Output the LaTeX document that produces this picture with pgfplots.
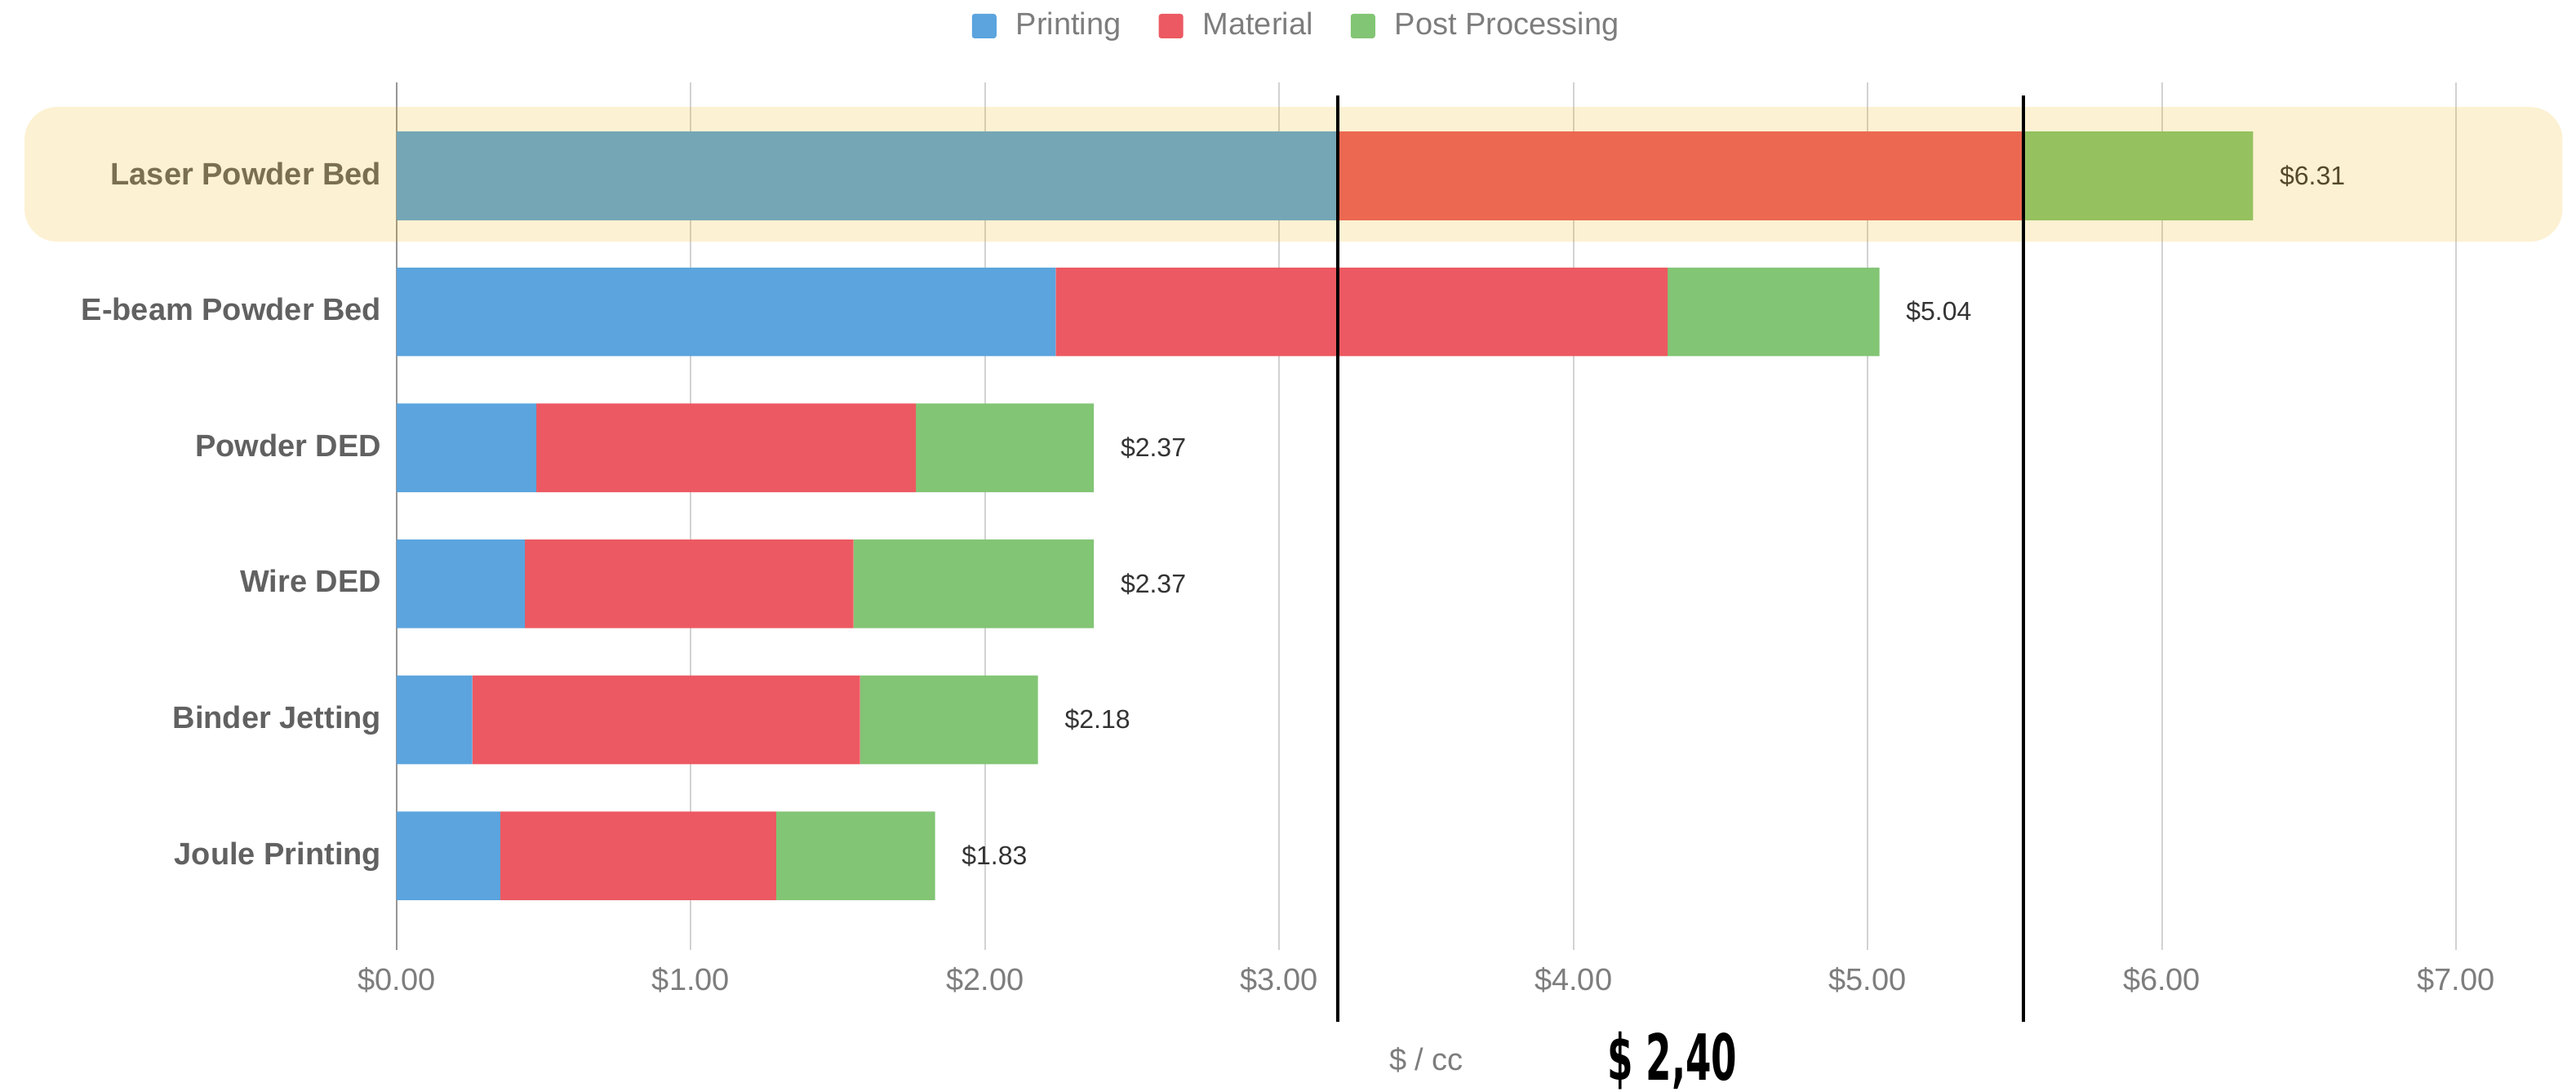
\documentclass[border=0pt]{standalone}
\usepackage{fontspec}
\setmainfont{Liberation Sans}
\newfontfamily\dinfont{DejaVu Sans}
\usepackage{pgfplots}
\pgfplotsset{compat=1.18}
\usepackage{pgfplotstable}
\definecolor{cPrint}{RGB}{91,164,222}
\definecolor{cMat}{RGB}{236,89,98}
\definecolor{cPost}{RGB}{130,197,116}
\definecolor{hl}{RGB}{238,177,5}
\definecolor{gridc}{RGB}{210,210,210}
\definecolor{axisc}{RGB}{150,150,150}
\definecolor{ticklab}{RGB}{125,125,125}
\definecolor{ylab}{RGB}{97,97,97}
\definecolor{vallab}{RGB}{51,51,51}

\pgfplotstableread{
y printing material post total
0 0.352 0.938 0.540 1.83
1 0.257 1.318 0.605 2.18
2 0.436 1.117 0.817 2.37
3 0.475 1.290 0.605 2.37
4 2.240 2.080 0.720 5.04
5 3.200 2.330 0.780 6.31
}\data

\begin{document}
\begin{tikzpicture}
\path[use as bounding box] (-121.5pt,-43.5pt) rectangle (667.5pt,290.9pt);
\begin{axis}[
  at={(0,0)}, anchor=south west,
  scale only axis, width=630.75pt, height=265.75pt,
  xbar stacked, bar width=0.652,
  xmin=0, xmax=7, ymin=-0.69, ymax=5.69,
  clip=false,
  axis x line*=bottom, axis y line*=left,
  x axis line style={draw=none},
  y axis line style={draw=axisc, line width=0.7pt},
  major tick length=0pt,
  xmajorgrids, grid style={draw=gridc, line width=0.5pt},
  xtick={0,1,2,3,4,5,6,7},
  xticklabels={\$0.00,\$1.00,\$2.00,\$3.00,\$4.00,\$5.00,\$6.00,\$7.00},
  ytick={0,1,2,3,4,5},
  yticklabels={Joule Printing, Binder Jetting, Wire DED, Powder DED, E-beam Powder Bed, Laser Powder Bed},
  xticklabel style={anchor=center, inner sep=0pt, yshift=-9.3pt, font=\fontsize{9.5}{11}\selectfont, text=ticklab},
  yticklabel style={anchor=mid east, inner sep=0pt, xshift=-4.5pt, font=\fontsize{9.5}{11}\selectfont\bfseries, text=ylab},
  xlabel={\$ / cc},
  xlabel style={at={(axis description cs:0.5,0)}, anchor=center, yshift=-33.75pt, font=\fontsize{9.5}{11}\selectfont, text=ticklab},
  legend style={at={(axis description cs:0.4364,1)}, anchor=center, yshift=17.15pt, draw=none, fill=none,
    font=\fontsize{9.5}{11}\selectfont, text=ticklab, legend columns=3,
    nodes={inner sep=0pt},
    /tikz/every odd column/.append style={column sep=6pt},
    /tikz/every even column/.append style={column sep=11.5pt}},
  legend cell align=left,
]
\addplot[fill=cPrint, draw=none, legend image code/.code={\fill[cPrint, rounded corners=0.8pt] (0pt,-3.75pt) rectangle (7.5pt,3.75pt);}] table[x=printing, y=y]{\data};
\addlegendentry{Printing}
\addplot[fill=cMat, draw=none, legend image code/.code={\fill[cMat, rounded corners=0.8pt] (0pt,-3.75pt) rectangle (7.5pt,3.75pt);}] table[x=material, y=y]{\data};
\addlegendentry{Material}
\addplot[fill=cPost, draw=none, legend image code/.code={\fill[cPost, rounded corners=0.8pt] (0pt,-3.75pt) rectangle (7.5pt,3.75pt);}] table[x=post, y=y]{\data};
\addlegendentry{Post Processing}

\node[anchor=west, xshift=8pt, inner sep=0pt, font=\fontsize{8}{9}\selectfont, text=vallab] at (axis cs:6.31,5) {\$6.31};
\node[anchor=west, xshift=8pt, inner sep=0pt, font=\fontsize{8}{9}\selectfont, text=vallab] at (axis cs:5.04,4) {\$5.04};
\node[anchor=west, xshift=8pt, inner sep=0pt, font=\fontsize{8}{9}\selectfont, text=vallab] at (axis cs:2.37,3) {\$2.37};
\node[anchor=west, xshift=8pt, inner sep=0pt, font=\fontsize{8}{9}\selectfont, text=vallab] at (axis cs:2.37,2) {\$2.37};
\node[anchor=west, xshift=8pt, inner sep=0pt, font=\fontsize{8}{9}\selectfont, text=vallab] at (axis cs:2.18,1) {\$2.18};
\node[anchor=west, xshift=8pt, inner sep=0pt, font=\fontsize{8}{9}\selectfont, text=vallab] at (axis cs:1.83,0) {\$1.83};

\node[anchor=base, inner sep=0pt, yshift=-40pt] at (axis description cs:0.6195,0)
  {\scalebox{0.58}[1]{\fontsize{19.5}{21}\selectfont\dinfont\bfseries \$ 2,40}};

\coordinate (hlA) at (axis cs:-1.265,4.517);
\coordinate (hlB) at (axis cs:7.362,5.507);
\coordinate (l1a) at (axis cs:3.2,5.59);
\coordinate (l1b) at (axis cs:3.2,-1.22);
\coordinate (l2a) at (axis cs:5.53,5.59);
\coordinate (l2b) at (axis cs:5.53,-1.22);
\end{axis}
\fill[hl, opacity=0.18, rounded corners=10pt] (hlA) rectangle (hlB);
\draw[black, line width=1pt] (l1a) -- (l1b);
\draw[black, line width=1pt] (l2a) -- (l2b);
\end{tikzpicture}
\end{document}
